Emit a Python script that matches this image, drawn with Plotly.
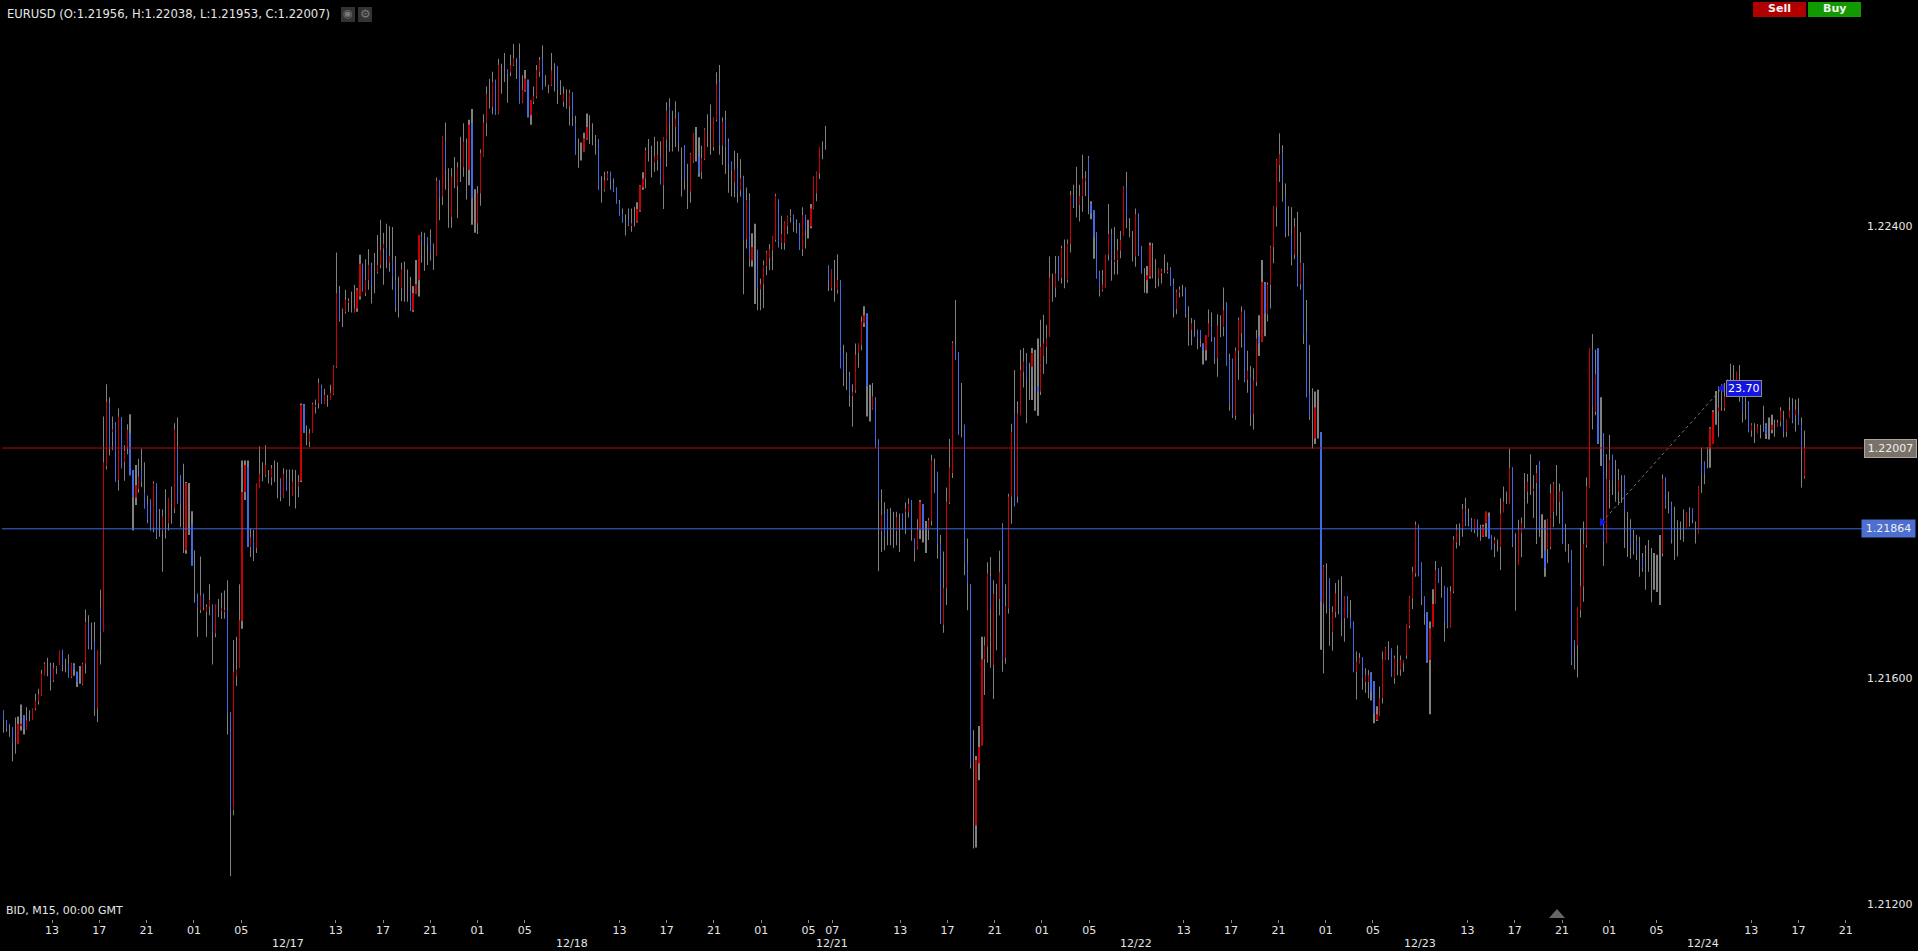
import numpy as np
import plotly.graph_objects as go

# EURUSD M15 bars: (open, high, low, close), in pips above 1.2
BARS_A = [
(154.2,154.3,150.3,152.5),(152.5,152.5,150.5,151.0),(151.3,151.8,149.6,151.3),(151.3,151.3,145.2,148.4),(149.9,153.0,146.6,149.9),(148.3,153.2,148.3,151.9),(151.6,155.3,150.7,151.9),(153.4,153.4,150.0,151.0),
(150.9,154.8,150.9,152.5),(153.4,154.3,152.4,153.4),(152.6,154.6,152.6,154.6),(154.6,157.2,154.3,156.0),(155.9,158.1,155.3,157.1),(156.9,161.4,156.8,160.8),(160.5,162.8,160.5,162.5),(160.8,163.6,160.3,160.8),
(162.0,162.7,157.8,159.6),(159.6,162.7,159.3,161.7),(161.8,162.1,160.7,161.9),(162.3,164.8,162.3,164.8),(164.9,165.0,161.2,162.3),(162.2,163.4,161.0,162.2),(162.5,164.2,160.1,160.2),(160.2,162.6,160.0,162.5),
(162.3,162.6,160.4,161.4),(161.1,161.1,158.4,159.3),(160.5,162.1,159.0,160.5),(158.9,162.7,158.7,162.5),(162.5,172.1,160.8,169.9),(169.9,171.1,165.1,165.5),(167.0,169.8,165.0,167.0),(166.4,169.9,153.3,154.6),
(154.6,164.9,152.2,164.9),(172.5,175.6,162.4,168.2),(168.2,206.3,168.2,198.2),(197.5,212.0,196.9,208.9),(208.6,209.7,199.4,200.6),(203.6,206.3,200.3,204.0),(205.3,205.3,194.7,194.7),(195.1,207.7,193.2,206.3),
(206.2,206.2,197.1,197.1),(198.2,201.2,194.9,200.2),(200.9,204.9,199.6,203.9),(203.3,206.7,195.9,195.9),(196.8,196.8,186.1,192.0),(191.9,197.7,190.6,194.1),(193.5,198.8,192.8,195.6),(196.9,200.6,193.8,194.7),
(192.9,198.2,190.0,190.0),(190.6,192.3,187.4,187.9),(191.6,191.6,186.1,186.1),(186.7,194.8,185.8,194.4),(194.4,194.4,184.6,185.0),(186.7,189.9,185.0,186.7),(186.1,189.8,178.8,188.6),(187.0,193.4,184.7,187.0),
(187.4,191.8,186.1,191.8),(190.0,193.9,187.3,190.0),(190.0,205.1,189.2,204.0),(200.9,206.1,190.9,190.9),(195.9,195.9,186.7,190.9),(186.7,197.9,182.1,186.7),(182.6,194.7,182.0,194.5),(188.0,194.5,185.3,188.0),
(187.3,189.5,179.9,179.9),(180.0,182.6,173.3,180.0),(174.9,174.9,167.3,172.4),(172.0,181.5,171.5,174.6),(174.9,174.9,172.0,172.6),(171.7,173.0,167.3,172.6),(172.6,176.6,171.1,173.8),(173.0,173.0,162.4,168.2),
(167.9,173.0,167.2,172.9),(172.0,174.0,170.8,172.0),(171.9,175.1,170.5,172.3),(171.7,175.5,170.5,172.0),(172.0,177.3,150.0,153.7),(153.9,154.0,124.9,136.5),(136.6,166.7,135.7,161.1),(160.3,167.3,158.6,161.5),
(161.8,176.6,161.8,170.2),(170.1,198.5,168.7,192.9),(192.9,198.5,191.5,197.7),(197.4,198.5,183.2,183.2),(183.2,186.4,181.4,184.9),(185.0,186.2,180.7,182.6),(183.0,194.5,182.1,194.5),(193.7,201.0,193.7,196.2),
(197.0,198.2,194.8,197.0),(195.9,201.2,195.6,197.7),(195.5,196.8,194.4,195.5),(195.5,197.7,194.1,197.1),(196.0,198.5,194.7,196.0),(195.6,198.2,191.8,195.6),(195.3,195.3,191.3,192.0),(192.0,197.1,191.9,196.1),
(195.3,196.9,193.1,193.1),(193.0,196.9,190.4,193.0),(192.3,196.9,192.3,194.8),(194.0,196.8,190.0,194.0),(193.9,195.9,192.0,194.7),(194.9,208.6,194.7,208.3),(208.3,208.5,203.4,203.4),(203.0,204.7,201.2,203.0),
]
BARS_B = [
(201.8,204.1,200.9,203.3),(203.4,208.7,203.4,208.5),(208.0,209.3,206.8,208.3),(208.6,213.0,207.7,212.2),(211.9,211.9,208.5,208.5),(208.5,211.2,208.5,210.1),(209.0,210.1,208.0,209.0),(209.2,211.9,209.2,210.5),
(210.2,215.3,210.1,215.1),(215.1,235.3,214.9,228.1),(228.2,229.4,223.1,223.1),(223.5,225.4,222.1,223.5),(224.8,228.7,224.5,226.9),(226.5,227.2,224.8,226.6),(226.0,228.4,224.7,226.0),(224.8,229.6,224.7,225.4),
(225.4,229.0,224.8,228.7),(227.5,234.9,227.0,233.3),(233.3,233.3,228.4,228.4),(228.1,234.1,227.6,230.4),(230.4,235.9,228.7,233.1),(233.1,233.5,226.3,229.6),(230.0,235.2,228.1,230.0),(231.9,238.4,231.6,233.1),
(233.1,241.1,232.5,235.8),(236.0,238.8,229.6,236.8),(236.0,240.4,232.5,234.0),(233.5,240.0,231.9,234.7),(234.0,239.8,228.7,231.0),(230.4,234.7,224.8,225.6),(226.0,231.0,223.8,226.0),(229.0,233.5,226.7,232.3),
(230.0,233.7,226.6,230.0),(229.0,232.3,226.6,229.0),(228.4,231.0,225.0,225.1),(225.1,229.4,224.8,228.1),(228.0,234.0,228.0,229.7),(230.4,238.4,227.5,238.4),(238.1,239.0,233.5,237.2),(236.0,238.8,232.1,236.0),
(238.0,238.0,233.1,236.6),(236.8,239.4,233.9,235.2),(235.0,236.9,232.2,235.0),(234.7,248.6,234.7,248.0),(248.1,248.1,241.0,245.1),(245.2,255.9,243.7,255.9),(255.0,258.3,246.4,249.9),(245.0,250.2,239.7,245.0),
(241.6,250.2,239.7,248.7),(249.0,252.2,246.7,249.0),(247.1,251.3,241.4,250.4),(250.5,255.8,247.8,250.5),(250.4,258.2,248.7,254.9),(250.0,255.5,244.7,250.0),(249.9,258.8,247.2,257.9),(258.2,260.7,240.2,244.9),
(243.0,246.5,238.8,243.0),(240.5,247.1,238.6,245.8),(245.8,253.6,243.6,252.9),(252.3,259.8,252.3,258.3),(258.2,264.7,255.9,263.3),(263.0,266.0,260.8,263.0),(261.1,267.3,259.8,265.5),(265.9,265.9,259.7,259.8),
(259.9,269.6,259.8,268.5),(265.0,268.7,263.4,265.0),(268.0,270.6,265.5,268.0),(267.7,267.7,261.8,266.9),(267.2,270.3,266.5,268.5),(268.5,272.2,268.3,269.7),(268.0,269.7,266.0,268.0),(269.7,272.3,261.7,261.7),
(262.0,266.7,261.8,264.1),(264.0,267.6,263.8,266.1),(265.9,265.9,259.2,259.3),(259.6,262.3,257.9,262.3),(262.0,264.7,261.6,263.0),(262.9,268.5,262.6,267.6),(267.3,269.9,266.4,269.4),(269.7,272.0,264.1,264.2),
(265.5,266.7,264.7,265.5),(264.0,265.0,263.5,264.0),(264.9,270.6,264.8,267.5),(266.0,268.8,263.8,266.0),(268.3,268.3,261.6,264.1),(264.0,265.8,263.2,264.0),(262.0,264.7,261.1,263.4),(262.5,264.2,260.8,262.5),
(261.2,264.1,257.8,263.6),(263.7,263.7,257.7,259.3),(258.2,259.5,252.6,252.6),(252.5,255.5,250.3,252.5),(253.0,254.8,251.6,253.0),(253.3,256.5,253.2,255.5),(255.5,259.9,255.3,257.5),(257.0,259.6,254.5,257.0),
(256.0,258.2,254.3,256.0),(254.0,256.1,252.6,254.0),(255.4,255.4,246.4,246.4),(246.0,248.8,244.1,246.0),(246.4,249.6,246.1,248.1),(248.3,249.7,248.1,249.3),(249.6,249.6,246.4,248.1),(247.6,248.4,246.0,246.0),
]
BARS_C = [
(246.8,246.8,244.0,244.0),(244.0,244.6,241.8,241.9),(242.2,243.1,240.6,240.6),(240.0,242.1,238.3,240.0),(241.1,243.1,240.0,240.2),(240.0,243.1,239.0,240.5),(241.0,243.4,239.9,241.0),(240.8,244.2,240.6,243.0),
(242.7,247.2,242.5,247.1),(246.8,249.5,246.4,248.4),(248.4,253.9,246.7,253.4),(253.0,255.4,251.4,253.0),(251.0,254.2,248.6,251.0),(251.2,255.8,249.6,252.3),(251.6,255.0,249.8,252.6),(252.3,255.0,247.4,247.4),
(247.2,255.7,243.0,255.7),(255.3,261.9,250.5,260.4),(261.1,262.6,253.2,258.2),(258.0,260.4,253.2,258.0),(257.5,262.1,254.0,259.0),(260.1,260.1,253.2,254.9),(250.0,253.9,245.2,250.0),(254.3,254.3,246.4,248.1),
(247.5,251.0,243.0,247.5),(246.1,252.9,244.1,252.7),(251.4,256.4,251.2,256.4),(254.0,257.5,251.4,254.0),(252.3,255.7,248.7,249.4),(249.6,254.2,248.3,252.0),(251.8,257.3,251.7,257.1),(257.0,259.8,254.0,257.0),
(256.0,261.5,252.6,256.0),(254.0,259.2,253.3,259.1),(258.8,267.2,258.5,265.1),(265.5,268.5,252.6,254.3),(254.3,259.2,250.8,258.5),(258.8,260.4,249.2,254.0),(255.0,255.5,245.9,250.8),(251.4,251.4,245.2,249.8),
(247.7,253.3,245.1,250.0),(250.2,252.9,244.1,245.8),(246.3,251.8,245.2,248.4),(248.7,248.9,227.9,237.5),(237.6,246.8,236.0,244.6),(244.6,245.8,232.8,234.0),(233.9,238.7,232.8,236.3),(235.0,240.4,226.2,235.0),
(235.8,235.8,225.1,229.0),(228.8,230.7,225.1,229.7),(229.7,233.9,225.5,233.1),(232.9,235.6,231.3,235.3),(234.3,236.8,232.2,235.9),(235.7,238.2,232.2,238.1),(237.5,245.7,237.2,245.3),(244.7,244.7,236.2,236.3),
(237.0,241.8,235.9,238.6),(237.0,240.8,235.8,240.6),(240.0,241.8,238.6,241.7),(241.6,243.0,240.6,241.7),(242.0,242.0,239.0,240.5),(240.0,241.2,238.7,240.0),(240.5,240.5,235.8,235.8),(235.9,243.3,234.7,241.9),
(242.0,242.0,236.0,239.3),(239.8,241.1,237.8,239.8),(239.9,243.9,239.6,243.1),(243.1,248.7,243.0,248.6),(245.8,249.6,244.4,249.5),(249.3,253.9,248.3,253.9),(253.0,255.0,251.8,253.0),(254.0,257.7,253.5,254.0),
(233.0,233.0,228.5,230.3),(229.0,232.3,228.6,232.2),(231.0,234.0,226.6,231.0),(228.7,235.0,228.0,230.4),(230.4,230.4,214.8,214.8),(217.5,219.0,211.7,214.0),(214.0,217.6,211.0,214.0),(213.3,214.2,208.0,210.1),
(209.9,212.0,204.5,210.6),(210.9,219.2,210.5,217.2),(217.5,219.2,214.9,219.1),(218.9,224.0,218.0,223.1),(222.8,225.8,222.1,224.2),(224.5,224.5,206.3,211.6),(209.0,211.9,205.4,209.0),(207.7,212.2,207.5,209.8),
(209.7,209.7,200.8,200.8),(202.2,202.2,178.9,191.5),(186.0,193.4,182.3,188.8),(189.1,191.1,182.6,185.0),(189.7,189.9,183.5,186.0),(186.5,190.1,183.5,186.5),(185.5,189.4,183.0,185.5),(186.0,189.4,183.5,188.5),
(185.9,189.1,182.3,185.9),(189.0,189.1,186.2,186.2),(189.4,191.1,185.5,189.9),(189.3,191.8,188.4,190.8),(191.5,191.5,184.3,186.2),(184.7,184.7,180.6,182.9),(182.9,188.1,182.8,186.2),(186.2,191.5,184.6,191.2),
]
BARS_D = [
(190.8,190.8,184.0,186.2),(185.5,187.8,182.1,185.5),(186.2,188.3,184.4,187.9),(187.8,199.5,187.0,198.5),(194.5,198.8,192.8,194.5),(196.5,196.5,181.1,183.8),(183.8,185.3,169.6,169.7),(169.4,182.4,168.0,175.9),
(175.9,193.7,172.9,191.2),(191.0,202.3,190.8,197.3),(196.3,219.6,195.4,219.3),(218.9,226.9,216.3,216.3),(217.7,217.7,203.0,203.0),(207.0,212.2,202.6,207.0),(204.8,204.8,178.2,180.3),(180.3,184.7,172.0,176.8),
(176.6,176.6,144.0,144.9),(145.0,150.8,129.8,145.0),(133.9,146.2,130.0,145.5),(144.9,151.5,141.9,147.8),(148.1,167.3,148.1,163.3),(163.3,167.3,157.0,165.8),(165.5,180.5,162.7,178.5),(178.0,181.4,161.8,172.0),
(162.3,177.3,156.3,174.9),(174.0,176.7,164.9,174.0),(174.0,182.5,171.1,178.7),(187.0,187.4,161.1,163.2),(163.6,176.6,162.5,172.7),(172.3,192.6,171.4,192.1),(192.1,205.0,187.3,203.6),(206.8,214.5,190.4,190.4),
(192.1,209.0,191.0,206.8),(206.5,218.1,206.5,214.5),(214.2,218.4,211.4,216.0),(216.0,217.5,205.1,213.0),(213.0,215.8,209.2,213.0),(215.1,218.4,209.2,217.5),(214.0,218.1,207.3,214.0),(211.6,220.1,206.4,210.7),
(210.7,223.4,210.1,218.6),(217.0,224.3,213.8,219.2),(218.6,222.5,215.6,220.1),(220.4,234.6,220.4,230.9),(230.0,231.6,226.6,230.0),(229.1,234.7,227.4,231.6),(234.7,234.7,230.3,230.5),(230.8,236.5,229.8,236.1),
(233.0,237.6,229.0,233.0),(230.4,237.6,230.0,236.9),(236.8,246.2,235.3,245.5),(245.5,247.3,243.2,243.5),(243.7,250.5,241.5,243.7),(243.7,247.3,240.8,245.3),(245.2,252.6,242.5,248.4),(248.0,249.7,245.3,248.4),
(252.0,252.4,242.1,245.2),(244.0,244.4,241.2,242.2),(242.8,242.8,234.2,238.1),(238.7,238.9,230.7,230.7),(231.9,232.1,227.5,228.7),(228.7,232.2,228.4,229.6),(229.1,234.9,229.1,234.9),(234.9,243.9,233.9,238.6),
(238.6,239.5,230.3,234.0),(233.8,239.8,231.4,234.0),(234.0,237.7,231.4,235.7),(235.6,239.1,234.3,237.5),(238.3,247.0,238.3,246.8),(247.0,249.6,239.6,241.4),(240.0,241.4,238.0,240.0),(236.0,239.1,233.7,236.0),
(234.6,243.1,232.8,242.1),(242.2,242.2,234.7,234.9),(236.4,236.5,231.6,231.6),(230.0,232.5,228.2,230.0),(230.4,232.9,228.1,231.3),(231.0,237.1,230.7,236.6),(234.0,237.0,230.7,234.0),(231.6,234.1,229.0,231.6),
(230.7,232.5,229.3,232.5),(231.6,232.4,229.8,232.2),(232.5,235.0,231.7,232.5),(231.9,233.6,231.6,232.2),(232.5,232.7,229.4,229.6),(229.8,230.7,223.8,225.1),(225.3,228.7,224.4,228.4),(228.2,229.3,227.4,228.7),
(228.5,229.6,227.5,228.5),(229.1,229.1,223.8,224.4),(223.0,225.8,218.8,223.0),(221.6,223.7,218.9,222.8),(222.0,223.4,220.4,222.0),(221.6,221.7,218.2,220.1),(221.6,221.6,218.6,220.1),(219.2,219.2,215.5,218.0),
(218.0,220.7,216.2,220.7),(220.4,225.2,220.4,222.8),(222.2,224.7,219.5,220.4),(220.3,220.3,215.6,216.6),(216.6,224.4,213.3,222.4),(222.5,224.2,220.3,222.5),(222.1,229.1,220.5,225.1),(226.5,226.5,215.3,215.3),
]
BARS_E = [
(216.3,217.4,207.3,208.5),(216.5,216.5,206.0,206.5),(206.4,218.5,205.7,217.9),(217.9,223.8,212.8,223.4),(221.0,225.8,218.5,224.8),(225.1,225.1,212.4,212.6),(212.8,217.9,210.5,214.4),(213.3,215.2,204.6,206.5),
(206.7,214.8,204.0,212.7),(212.4,221.6,211.7,220.1),(220.4,224.2,217.0,219.2),(219.5,234.0,219.5,230.1),(229.8,230.1,220.5,224.5),(224.4,230.0,223.1,229.6),(229.6,236.5,225.4,236.3),(236.3,243.5,233.4,243.4),
(243.3,251.8,239.9,251.7),(250.8,256.4,247.8,252.7),(252.9,254.3,244.3,247.6),(245.3,247.5,238.0,238.7),(240.0,243.5,238.2,240.0),(238.4,243.3,233.0,234.6),(234.9,241.4,234.1,239.9),(234.9,242.5,229.3,229.3),
(229.7,238.9,228.7,233.5),(233.4,233.4,219.1,220.7),(221.0,226.9,209.7,209.8),(210.4,219.0,205.7,206.3),(205.5,211.3,200.6,205.5),(202.4,210.7,201.4,207.9),(207.0,211.0,202.4,207.0),(203.5,203.5,165.0,173.5),
(173.2,180.0,160.8,179.8),(178.0,180.3,171.4,178.0),(177.6,177.6,165.7,172.3),(168.2,172.7,164.8,171.7),(171.7,176.8,170.7,175.0),(175.0,177.4,171.3,175.0),(174.4,178.0,167.4,170.4),(170.6,174.4,166.4,174.3),
(174.5,174.5,170.6,170.6),(170.6,173.8,168.8,168.8),(170.0,170.0,161.0,161.1),(161.1,164.7,156.2,162.9),(162.7,164.4,162.6,163.6),(163.7,163.7,157.9,160.0),(159.3,161.7,157.4,160.5),(159.3,161.4,156.4,160.5),
(160.8,161.0,156.0,157.6),(159.4,159.4,152.0,153.7),(152.6,155.0,152.4,153.6),(153.4,158.5,153.3,156.4),(156.4,164.7,155.5,163.3),(163.2,165.5,163.2,165.4),(164.5,166.5,163.2,164.5),(165.2,165.2,160.2,160.2),
(160.0,164.0,159.0,163.5),(163.0,165.8,160.5,163.0),(161.5,164.0,160.4,163.2),(162.6,163.2,161.1,163.2),(164.0,169.4,163.4,169.4),(169.2,174.5,168.8,174.4),(174.1,179.7,172.2,178.8),(178.5,187.7,177.9,187.1),
(187.1,187.1,178.0,178.0),(180.4,180.5,172.9,174.1),(174.4,174.4,169.4,171.4),(171.7,171.7,162.7,162.9),(163.2,170.0,153.6,168.8),(169.1,175.7,169.1,173.1),(173.2,180.7,173.2,179.1),(179.4,179.4,176.8,176.8),
(177.0,179.7,174.2,177.0),(176.3,176.3,166.4,170.0),(175.9,176.0,168.8,169.1),(169.1,176.3,169.0,175.3),(175.3,185.1,175.0,184.5),(184.0,187.2,182.9,186.2),(185.0,187.4,183.4,185.0),(186.5,190.8,185.0,189.9),
(189.9,191.9,186.9,187.1),(188.0,190.0,186.8,188.0),(188.0,188.3,185.9,186.1),(186.3,188.1,185.6,188.1),(188.0,188.0,185.0,185.6),(186.0,187.1,184.3,186.0),(185.1,187.1,185.0,186.8),(187.4,189.4,185.0,189.4),
(188.6,189.3,184.7,184.7),(185.3,185.3,182.7,182.7),(183.7,185.0,181.4,184.4),(183.5,184.5,182.4,183.5),(183.2,191.8,179.1,189.1),(189.3,193.9,189.4,191.2),(191.5,193.0,190.8,191.5),(190.9,200.6,190.9,197.1),
(197.3,197.3,183.2,183.5),(183.0,185.6,171.9,183.0),(180.0,188.0,180.0,186.2),(185.6,188.4,181.4,187.4),(190.0,196.3,186.5,190.0),(193.0,196.1,190.9,194.7),(195.0,199.6,192.4,195.0),(193.2,195.9,188.3,193.5),
]
BARS_F = [
(194.5,197.7,183.7,196.3),(198.4,198.4,185.0,186.5),(186.0,189.0,181.2,186.0),(182.6,188.0,177.9,179.4),(182.8,188.1,180.3,188.0),(183.2,194.3,182.8,192.7),(189.4,194.7,186.7,194.4),(192.0,197.7,188.7,192.0),
(191.2,194.4,187.3,193.0),(193.0,193.0,183.7,183.7),(184.0,187.3,182.4,184.0),(182.0,183.7,180.4,182.0),(182.6,182.6,162.3,162.9),(166.7,166.7,161.5,165.8),(165.8,172.5,160.1,172.5),(172.0,186.5,170.7,176.3),
(176.2,187.7,173.5,183.7),(183.5,195.5,183.1,193.9),(193.7,218.3,193.7,218.3),(218.2,220.9,204.0,208.0),(207.1,218.1,206.5,213.7),(218.3,218.3,201.4,201.5),(201.0,209.7,197.5,201.0),(203.3,203.3,179.8,184.1),
(184.0,199.6,184.0,195.2),(195.0,203.0,190.0,198.6),(199.5,199.5,192.4,195.0),(195.0,198.6,191.2,195.0),(193.0,197.0,190.6,195.0),(193.0,195.9,191.0,193.0),(195.9,195.9,183.0,189.7),(186.0,189.4,181.4,186.0),
(186.7,188.1,181.1,183.2),(184.0,186.2,181.8,184.0),(184.4,185.3,180.9,181.8),(182.0,185.0,177.9,182.0),(181.3,182.1,178.8,179.5),(179.0,183.5,175.6,179.0),(180.0,184.4,178.8,180.0),(177.0,183.0,173.4,177.0),
(178.0,182.1,175.6,178.0),(178.0,181.8,175.2,178.0),(176.0,185.3,172.9,176.0),(182.0,196.0,181.5,195.2),(195.5,195.5,190.0,190.5),(190.5,193.0,189.1,190.5),(190.9,191.2,183.8,184.5),(184.0,190.3,180.9,184.0),
(184.0,187.9,181.5,184.0),(186.0,187.7,184.4,186.0),(186.5,189.8,184.1,186.5),(186.5,189.3,186.5,189.2),(188.5,190.2,186.8,188.5),(190.0,190.0,187.4,188.0),(186.5,187.7,183.8,186.5),(185.6,194.0,185.6,193.9),
(198.0,200.8,192.8,196.2),(198.3,198.3,194.3,196.2),(198.5,200.9,197.1,198.5),(200.8,204.4,197.2,204.2),(201.4,207.4,201.4,207.1),(207.0,210.8,204.8,207.0),(207.1,211.6,202.7,207.9),(209.0,212.0,207.3,209.0),
(207.7,212.2,207.3,209.8),(209.8,212.9,209.8,212.9),(213.0,215.6,212.2,213.0),(213.0,215.4,211.6,213.0),(212.1,214.2,211.6,214.2),(211.0,215.4,208.9,211.0),(209.5,212.2,205.2,207.1),(207.5,209.8,205.7,207.5),
(209.0,209.0,203.5,203.6),(203.8,205.1,202.7,204.8),(203.5,205.1,201.6,203.5),(203.3,204.9,203.3,204.6),(203.5,204.8,202.4,203.5),(205.0,208.2,203.6,205.0),(204.8,205.1,202.3,203.2),(204.0,206.1,202.2,204.0),
(203.9,206.6,203.3,204.8),(204.0,205.7,202.7,204.0),(204.6,205.7,204.5,205.2),(205.4,207.9,204.5,207.3),(205.7,207.3,202.6,203.5),(203.6,205.7,202.7,205.7),(206.0,209.7,206.0,207.4),(208.0,209.5,205.1,205.5),
(206.5,209.3,203.6,207.5),(206.8,209.5,204.8,204.8),(204.8,206.1,193.7,200.9),(195.6,203.8,195.3,200.7),
]

TICK_SLOTS = [16,32,48,64,80,112,128,144,160,176,208,224,240,256,272,280,303,319,335,351,367,399,415,431,447,463,495,511,527,543,559,591,607,623]
TICK_TEXT = ["13","17","21","01","05","13","17","21","01","05","13","17","21","01","05","07","13","17","21","01","05","13","17","21","01","05","13","17","21","01","05","13","17","21"]
DATE_SLOTS = [96,192,280,383,479,575]
DATE_TEXT = ["12/17","12/18","12/21","12/22","12/23","12/24"]
PRICE_TICKS = [1.212,1.216,1.224]
PRICE_TICK_TEXT = ["1.21200","1.21600","1.22400"]
BID_PRICE, BID_TEXT = 1.22007, "1.22007"
LINE_PRICE, LINE_TEXT = 1.21864, "1.21864"
MEASURE_SLOTS = [541.0, 581.6]
MEASURE_PRICES = [1.21876, 1.22113]
MEASURE_TEXT = "23.70"
TITLE = "EURUSD (O:1.21956, H:1.22038, L:1.21953, C:1.22007)"
FOOT = "BID, M15, 00:00 GMT"

W, H = 1918, 951
L, R, B = 2, 1863, 919   # plot box in page pixels
FONT = "DejaVu Sans"
WICK, UP, DOWN = "#808080", "#cc0000", "#4169e1"

rows = np.array(BARS_A + BARS_B + BARS_C + BARS_D + BARS_E + BARS_F, dtype=float)
o, h, l, c = [1.2 + rows[:, k] / 10000 for k in range(4)]
n = len(rows)
SPACING = 2.955
slots = np.arange(n) * (609.5 / (n - 1))
bar_w = 0.05   # sub-pixel: the renderer snaps each bar to one whole pixel column


def xp(px):
    return (px - L) / (R - L)


def yp(py):
    return (B - py) / B


fig = go.Figure()
fig.add_trace(go.Bar(x=slots, base=l, y=h - l, width=bar_w, marker=dict(color=WICK, line=dict(width=0)), hoverinfo="skip", showlegend=False))
fig.add_trace(go.Bar(x=slots, base=np.minimum(o, c), y=np.abs(c - o), width=bar_w,
                     marker=dict(color=[UP if cc >= oo else DOWN for oo, cc in zip(o, c)], line=dict(width=0)),
                     hoverinfo="skip", showlegend=False))
fig.add_trace(go.Scatter(x=MEASURE_SLOTS, y=MEASURE_PRICES, mode="lines", line=dict(color="#777777", width=1, dash="dot"), hoverinfo="skip", showlegend=False))
fig.add_trace(go.Scatter(x=MEASURE_SLOTS, y=MEASURE_PRICES, mode="markers",
                         marker=dict(symbol=["triangle-right", "triangle-left"], size=8, color="#1414e0", line=dict(width=0)),
                         hoverinfo="skip", showlegend=False))

shapes = [
    dict(type="line", xref="paper", yref="y", x0=0, x1=1, y0=BID_PRICE, y1=BID_PRICE, line=dict(color="#b01010", width=1)),
    dict(type="line", xref="paper", yref="y", x0=0, x1=1, y0=LINE_PRICE, y1=LINE_PRICE, line=dict(color="#4169e1", width=1)),
]


def box(x0, x1, y0, y1, fill):
    shapes.append(dict(type="rect", xref="paper", yref="paper", x0=xp(x0), x1=xp(x1), y0=yp(y1), y1=yp(y0), fillcolor=fill, line=dict(width=0)))


box(341, 355, 7, 22, "#333333")
box(358, 372, 7, 22, "#333333")
box(1753, 1806, 2, 17, "#b00000")
box(1808, 1861, 2, 17, "#109a00")
shapes.append(dict(type="path", xref="paper", yref="paper",
                   path=f"M {xp(1549)} {yp(918)} L {xp(1565)} {yp(918)} L {xp(1557)} {yp(909)} Z",
                   fillcolor="#666666", line=dict(width=0)))

notes = []


def note(text, px, py, color="#e6e6e6", size=11, anchor="left", bold=False):
    notes.append(dict(text=f"<b>{text}</b>" if bold else text, xref="paper", yref="paper", x=xp(px), y=yp(py), xanchor=anchor, yanchor="middle",
                      showarrow=False, font=dict(family=FONT, size=size, color=color), borderpad=0))


note(TITLE, 6, 14, size=11.6)
note(FOOT, 5, 910)
note("◉", 348, 14, color="#777777", size=11, anchor="center")
note("⚙", 365, 14, color="#777777", size=12, anchor="center")
note("Sell", 1779.5, 9, color="#f2f2f2", anchor="center", bold=True)
note("Buy", 1834.5, 9, color="#f2f2f2", anchor="center", bold=True)
for s, t in zip(DATE_SLOTS, DATE_TEXT):
    notes.append(dict(text=t, xref="x", yref="paper", x=s + 0.3, y=yp(943), xanchor="center", yanchor="middle", showarrow=False,
                      font=dict(family=FONT, size=11, color="#e6e6e6")))
notes.append(dict(text=BID_TEXT, xref="paper", yref="y", x=xp(1890), y=BID_PRICE, xanchor="center", yanchor="middle", showarrow=False,
                  font=dict(family=FONT, size=11, color="#eeeeee"), bgcolor="#7a7268", bordercolor="#aaa59e", borderwidth=1, borderpad=2, width=47))
notes.append(dict(text=LINE_TEXT, xref="paper", yref="y", x=xp(1888), y=LINE_PRICE, xanchor="center", yanchor="middle", showarrow=False,
                  font=dict(family=FONT, size=11, color="#eeeeee"), bgcolor="#4c6fd0", borderpad=2, width=49))
notes.append(dict(text=MEASURE_TEXT, xref="paper", yref="y", x=xp(1744), y=MEASURE_PRICES[1], xanchor="center", yanchor="middle", showarrow=False,
                  font=dict(family=FONT, size=11, color="#ffffff"), bgcolor="#1414e0", bordercolor="#8a8a8a", borderwidth=1, borderpad=1))

fig.update_layout(
    width=W, height=H, autosize=False, margin=dict(l=L, r=W - R, t=0, b=H - B, pad=0),
    paper_bgcolor="#000000", plot_bgcolor="#000000", barmode="overlay", showlegend=False,
    shapes=shapes, annotations=notes, font=dict(family=FONT, size=11, color="#e6e6e6"),
    xaxis=dict(range=[(L - 3.3) / SPACING, (R - 3.3) / SPACING], tickmode="array", tickvals=[s + 0.5 for s in TICK_SLOTS], ticktext=TICK_TEXT,
               ticks="outside", ticklen=3, tickcolor="#888888", tickwidth=1, showgrid=False, zeroline=False, showline=False,
               ticklabelstandoff=-2, tickangle=0, tickfont=dict(family=FONT, size=11, color="#e6e6e6")),
    yaxis=dict(range=[1.211734, 1.228], side="right", tickmode="array", tickvals=PRICE_TICKS, ticktext=PRICE_TICK_TEXT,
               ticks="", showgrid=False, zeroline=False, showline=False, ticklabelstandoff=3,
               tickfont=dict(family=FONT, size=11, color="#e6e6e6")),
)
fig.write_html("out.html", config=dict(displayModeBar=False),
               post_script="document.body.style.margin='0';document.body.style.background='#000';document.documentElement.style.overflow='hidden';")
